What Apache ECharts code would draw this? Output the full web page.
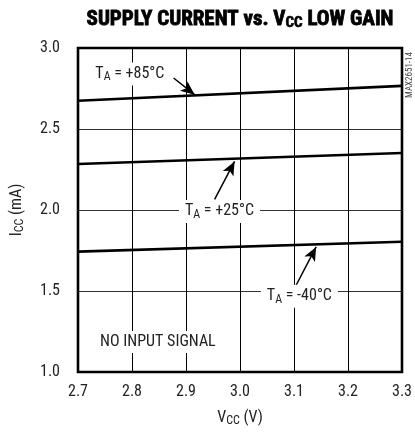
<!DOCTYPE html>
<html><head><meta charset="utf-8">
<script src="https://cdn.jsdelivr.net/npm/echarts@6/dist/echarts.min.js"></script>
<style>html,body{margin:0;padding:0;background:#fff}#c{width:415px;height:432px}</style>
</head><body><div id="c"></div>
<script>
const FONT = "'Liberation Sans Narrow','Arial Narrow','Roboto Condensed',sans-serif";
const vcc = [2.7, 3.3];
const icc85 = [2.674, 2.766];
const icc25 = [2.284, 2.352];
const iccM40 = [1.743, 1.804];
const xTicks = [2.7, 2.8, 2.9, 3.0, 3.1, 3.2, 3.3];
const yTicks = [1.0, 1.5, 2.0, 2.5, 3.0];
// annotation anchors in data space
const lab85 = [2.796, 2.84], arr85 = [[2.877, 2.815], [2.916, 2.712]];
const lab25 = [2.962, 1.991], arr25 = [[2.953, 2.065], [2.990, 2.300]];
const labM40 = [3.110, 1.468], arrM40 = [[3.102, 1.523], [3.141, 1.772]];
const labNoSig = [2.848, 1.185];

const chart = echarts.init(document.getElementById('c'), null, {renderer: 'canvas'});
const lineSeries = (d) => ({
  type: 'line', data: vcc.map((x, i) => [x, d[i]]), symbol: 'none',
  lineStyle: {color: '#000', width: 2.6}, z: 5, animation: false
});
const arrow = (a) => ({
  type: 'line', data: [], silent: true, animation: false,
  markLine: {
    silent: true, animation: false, symbol: ['none', 'arrow'], symbolSize: [9, 14],
    lineStyle: {color: '#000', width: 1.5, type: 'solid'}, label: {show: false},
    data: [[{coord: a[0]}, {coord: a[1]}]]
  }
});
chart.setOption({
  animation: false,
  grid: {left: 78, right: 12, top: 48, bottom: 59},
  xAxis: {
    type: 'value', min: xTicks[0], max: xTicks[xTicks.length - 1], interval: 0.1,
    name: '{t|V}{s|CC}{t| (V)}', nameLocation: 'middle', nameGap: 37,
    nameTextStyle: {rich: {
      t: {fontFamily: FONT, fontSize: 16, color: '#222'},
      s: {fontFamily: FONT, fontSize: 12, color: '#222', padding: [6, 0, 0, 0]}
    }},
    axisLine: {show: false}, axisTick: {show: false},
    axisLabel: {fontFamily: FONT, fontSize: 16, color: '#222', margin: 12, formatter: v => v.toFixed(1)},
    splitLine: {show: true, lineStyle: {color: '#000', width: 1}}
  },
  yAxis: {
    type: 'value', min: yTicks[0], max: yTicks[yTicks.length - 1], interval: 0.5,
    name: '{t|I}{s|CC}{t| (mA)}', nameLocation: 'middle', nameGap: 52, nameRotate: 90,
    nameTextStyle: {rich: {
      t: {fontFamily: FONT, fontSize: 16, color: '#222'},
      s: {fontFamily: FONT, fontSize: 12, color: '#222', padding: [6, 0, 0, 0]}
    }},
    axisLine: {show: false}, axisTick: {show: false},
    axisLabel: {fontFamily: FONT, fontSize: 16, color: '#222', margin: 18, formatter: v => v.toFixed(1)},
    splitLine: {show: true, lineStyle: {color: '#333', width: 1}}
  },
  series: [lineSeries(icc85), lineSeries(icc25), lineSeries(iccM40), arrow(arr85), arrow(arr25), arrow(arrM40)]
});

function draw() {
  const p = (c) => chart.convertToPixel({gridIndex: 0}, c);
  const tl = p([xTicks[0], yTicks[yTicks.length - 1]]);
  const br = p([xTicks[xTicks.length - 1], yTicks[0]]);
  const taRich = {
    t: {fontFamily: FONT, fontSize: 16, fill: '#222'},
    s: {fontFamily: FONT, fontSize: 12, fill: '#222', padding: [7, 0, 0, 0]}
  };
  const taText = (txt, pos) => {
    const q = p(pos);
    return {
      type: 'text', x: q[0], y: q[1], z: 10,
      style: {
        text: '{t|T}{s|A}{t| = ' + txt + '}', rich: taRich, align: 'center', verticalAlign: 'middle',
        backgroundColor: '#fff', padding: [2, 6, 2, 6]
      }
    };
  };
  const nq = p(labNoSig);
  const titleRich = {
    b: {fontFamily: FONT, fontSize: 21, fontWeight: 'bold', fill: '#000', stroke: '#000', lineWidth: 0.8},
    s: {fontFamily: FONT, fontSize: 15, fontWeight: 'bold', fill: '#000', stroke: '#000', lineWidth: 0.6, padding: [7, 0, 0, 0]}
  };
  chart.setOption({graphic: [
    {type: 'rect', shape: {x: tl[0], y: tl[1], width: br[0] - tl[0], height: br[1] - tl[1]},
     style: {fill: null, stroke: '#000', lineWidth: 2.6}, z: 6},
    taText('+85°C', lab85),
    taText('+25°C', lab25),
    taText('-40°C', labM40),
    {type: 'text', x: nq[0], y: nq[1], z: 10,
     style: {text: 'NO INPUT SIGNAL', fontFamily: FONT, fontSize: 16, fill: '#222', align: 'center', verticalAlign: 'middle',
       backgroundColor: '#fff', padding: [3, 4, 3, 4]}},
    {type: 'text', x: (tl[0] + br[0]) / 2, y: 20, z: 10,
     style: {text: '{b|SUPPLY CURRENT vs. V}{s|CC}{b| LOW GAIN}', align: 'center', verticalAlign: 'middle', rich: titleRich}},
    {type: 'text', x: 410, y: 75, rotation: Math.PI / 2, z: 10,
     style: {text: 'MAX2651-14', fontFamily: FONT, fontSize: 9, fill: '#444', align: 'center', verticalAlign: 'middle'}}
  ]});
}
draw();
</script>
</body></html>
